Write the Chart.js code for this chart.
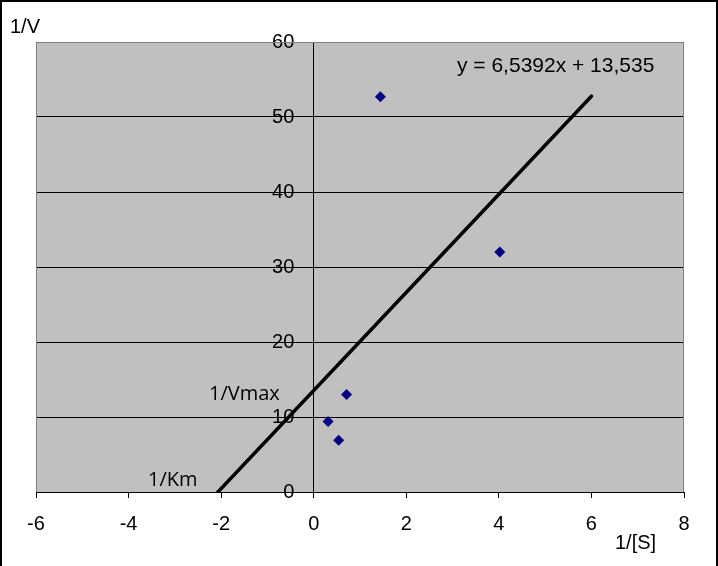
<!DOCTYPE html>
<html>
<head>
<meta charset="utf-8">
<script src="https://cdn.jsdelivr.net/npm/chart.js@4"></script>
<style>
body { margin: 0; background: #fff; }
canvas { display: block; }
</style>
</head>
<body>
<canvas id="chart" width="718" height="566"></canvas>
<script>
// Lineweaver-Burk data
var invS = [0.31, 0.54, 0.71, 1.44, 4.02];   // 1/[S]
var invV = [9.4, 6.9, 13.0, 52.7, 32.0];     // 1/V
var slope = 6.5392;
var intercept = 13.535;
var trendX = [-2.0698, 6];                   // trendline drawn from x-intercept to 6
var xRange = [-6, 8];
var yRange = [0, 60];
var yLabelAt = -0.42;  // y tick labels sit a little left of the x=0 axis

var points = [];
for (let i = 0; i < invS.length; i++) {
    points.push({x: invS[i], y: invV[i]});
}
var trend = trendX.map(function (x) { return {x: x, y: slope * x + intercept}; });

var ARIAL = '"Liberation Sans", Arial, sans-serif';
var SEGOE = '"Open Sans", "Noto Sans", sans-serif';

var frame = {
    id: 'frame',
    beforeDraw: function (chart) {
        var a = chart.chartArea, ctx = chart.ctx;
        ctx.save();
        ctx.fillStyle = '#fff';
        ctx.fillRect(0, 0, chart.width, chart.height);
        ctx.fillStyle = '#c0c0c0';
        ctx.fillRect(a.left, a.top, a.right - a.left, a.bottom - a.top);
        ctx.restore();
    },
    afterDraw: function (chart) {
        var a = chart.chartArea, ctx = chart.ctx;
        ctx.save();
        // plot area border (left, top, right)
        ctx.strokeStyle = '#808080';
        ctx.lineWidth = 1;
        ctx.beginPath();
        ctx.moveTo(a.left + 0.5, a.bottom);
        ctx.lineTo(a.left + 0.5, a.top + 0.5);
        ctx.lineTo(a.right - 0.5, a.top + 0.5);
        ctx.lineTo(a.right - 0.5, a.bottom);
        ctx.stroke();
        // outer frame: left, top, right
        ctx.strokeStyle = '#000';
        ctx.lineWidth = 2;
        ctx.beginPath();
        ctx.moveTo(1, chart.height);
        ctx.lineTo(1, 1);
        ctx.lineTo(717, 1);
        ctx.lineTo(717, chart.height);
        ctx.stroke();
        // texts
        ctx.fillStyle = '#000';
        ctx.textBaseline = 'middle';
        ctx.textAlign = 'left';
        ctx.font = '20px ' + ARIAL;
        ctx.fillText('1/V', 10, 27);
        ctx.fillText('1/[S]', 615, 543);
        ctx.font = '21px ' + ARIAL;
        ctx.fillText('y = 6,5392x + 13,535', 457, 66);
        ctx.font = '20px ' + SEGOE;
        ctx.fillText('1/Vmax', 209, 394);
        ctx.fillText('1/Km', 148, 480);
        ctx.restore();
    }
};

new Chart(document.getElementById('chart'), {
    type: 'scatter',
    data: {
        datasets: [
            {
                type: 'line',
                data: trend,
                borderColor: '#000',
                borderWidth: 3.5,
                borderCapStyle: 'round',
                pointRadius: 0,
                fill: false
            },
            {
                data: points,
                pointStyle: 'rectRot',
                pointRadius: 5.5,
                pointBackgroundColor: '#000080',
                pointBorderColor: '#000080',
                pointBorderWidth: 0
            }
        ]
    },
    options: {
        responsive: false,
        animation: false,
        layout: {padding: {left: 36, top: 42, right: 34, bottom: 16}},
        plugins: {
            legend: {display: false},
            tooltip: {enabled: false}
        },
        scales: {
            x: {
                type: 'linear',
                min: xRange[0],
                max: xRange[1],
                ticks: {stepSize: 2, padding: 14, color: '#000', font: {family: ARIAL, size: 20}},
                grid: {drawOnChartArea: false, drawTicks: true, tickLength: 6, color: '#000'},
                border: {color: '#000', width: 1}
            },
            y: {
                type: 'linear',
                position: {x: 0},
                min: yRange[0],
                max: yRange[1],
                ticks: {stepSize: 10, display: false},
                grid: {color: '#000', tickLength: 6, lineWidth: 1},
                border: {color: '#000', width: 1}
            },
            yLabels: {
                type: 'linear',
                axis: 'y',
                position: {x: yLabelAt},
                min: yRange[0],
                max: yRange[1],
                ticks: {stepSize: 10, padding: 0, color: '#000', font: {family: ARIAL, size: 20}},
                grid: {display: false},
                border: {display: false}
            }
        }
    },
    plugins: [frame]
});
</script>
</body>
</html>
